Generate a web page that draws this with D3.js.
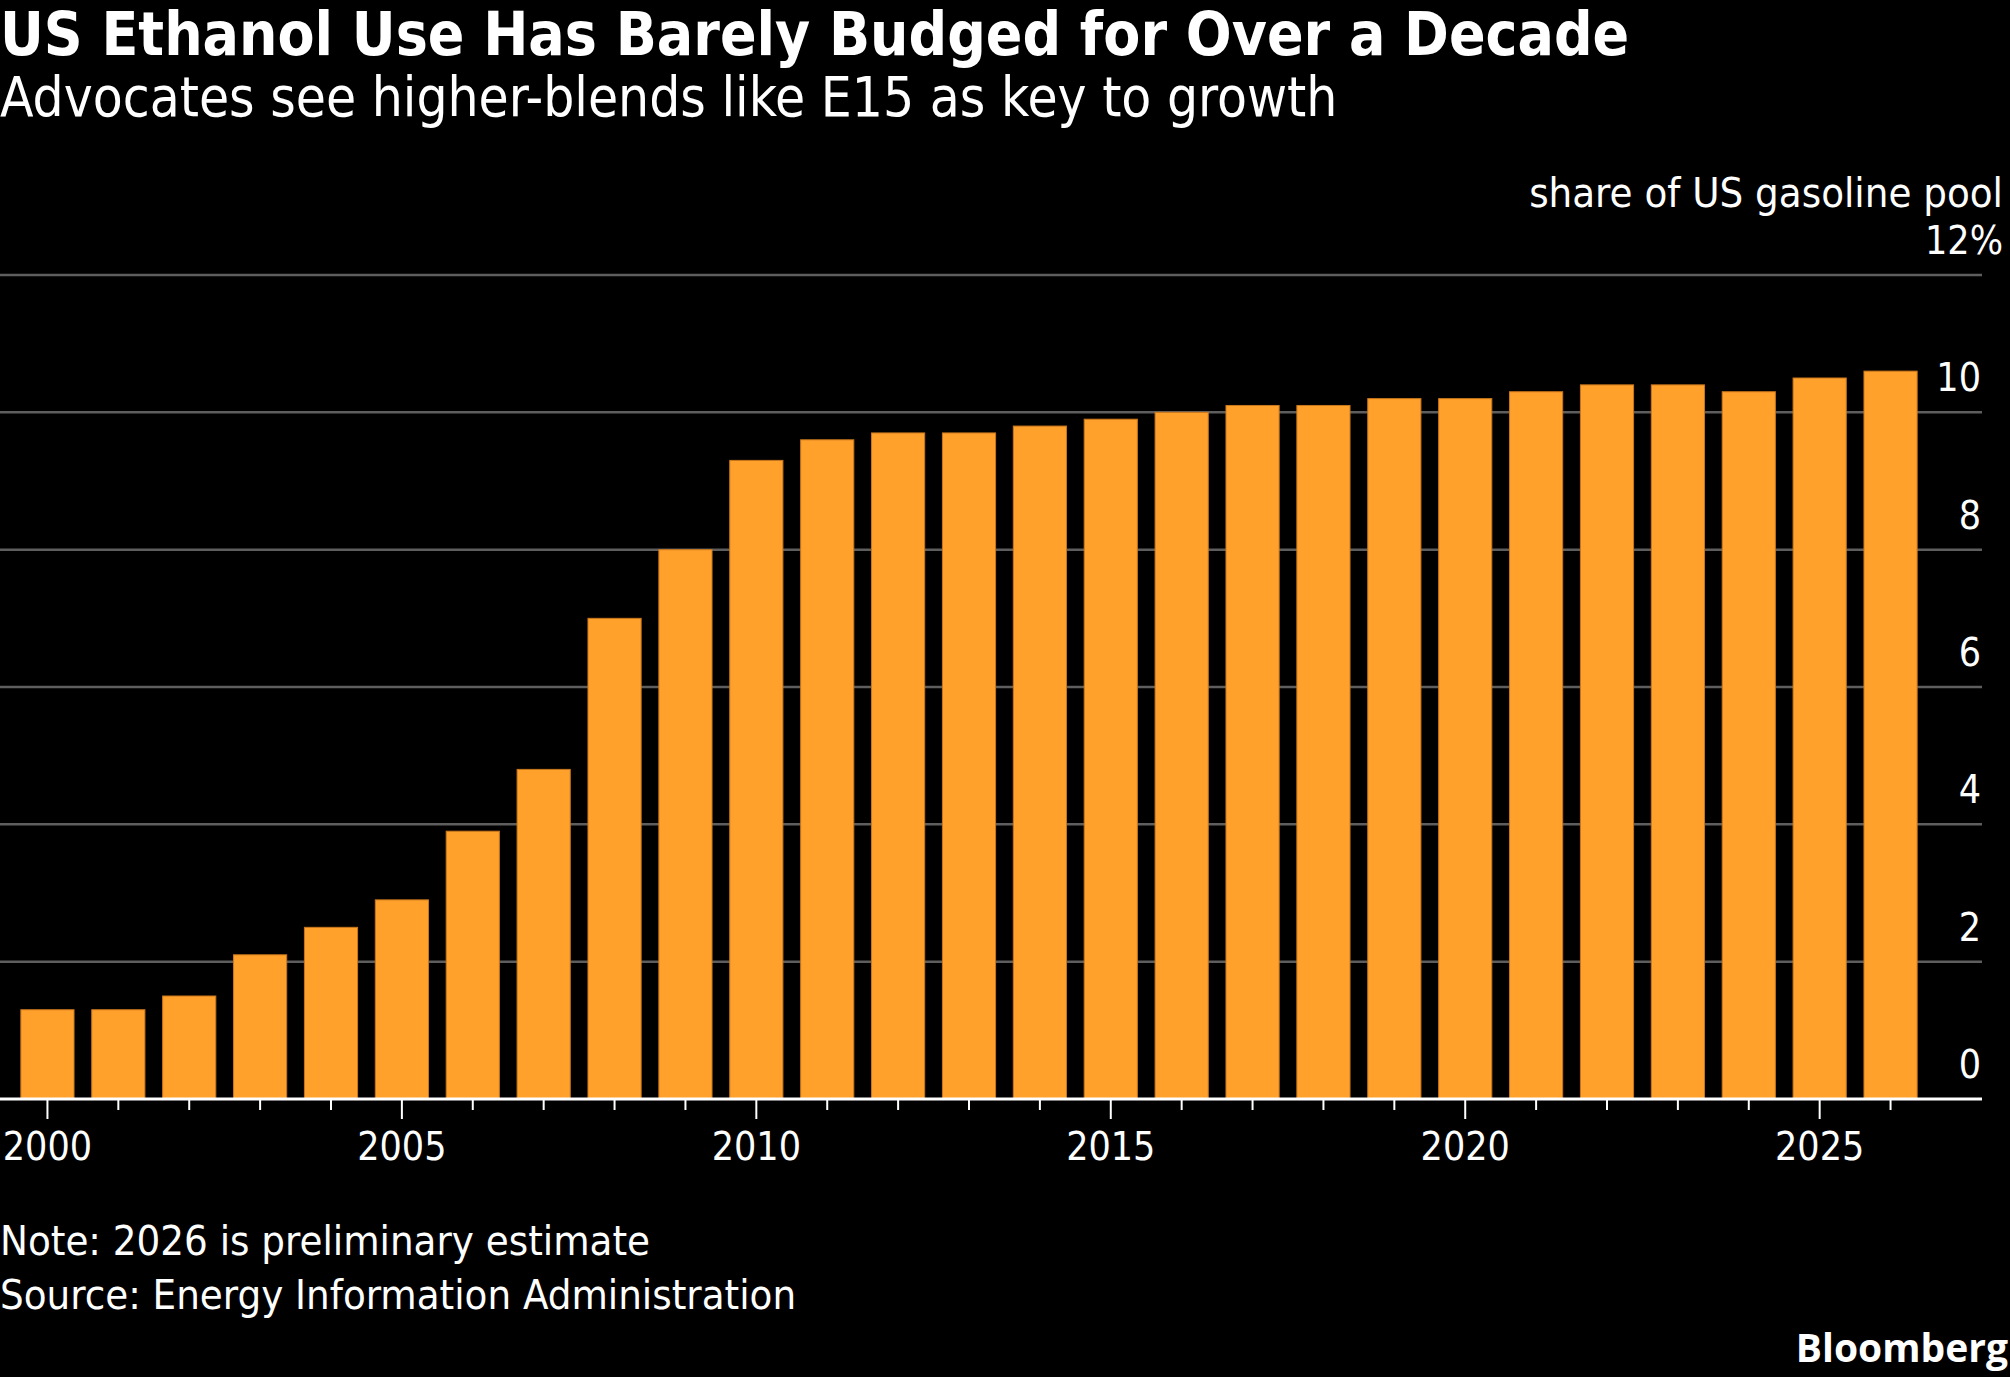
<!DOCTYPE html>
<html>
<head>
<meta charset="utf-8">
<script src="https://cdn.jsdelivr.net/npm/d3@7"></script>
<style>
  body { margin: 0; background: #000; }
  text { font-family: "DejaVu Sans Condensed", "DejaVu Sans", sans-serif; fill: #fff; }
</style>
</head>
<body>
<div id="chart"></div>
<script>
// data
var years = [2000, 2001, 2002, 2003, 2004, 2005, 2006, 2007, 2008, 2009,
  2010, 2011, 2012, 2013, 2014, 2015, 2016, 2017, 2018, 2019,
  2020, 2021, 2022, 2023, 2024, 2025, 2026];
var shares = [1.3, 1.3, 1.5, 2.1, 2.5, 2.9, 3.9, 4.8, 7.0, 8.0,
  9.3, 9.6, 9.7, 9.7, 9.8, 9.9, 10.0, 10.1, 10.1, 10.2,
  10.2, 10.3, 10.4, 10.4, 10.3, 10.5, 10.6];
var yTicks = [0, 2, 4, 6, 8, 10, 12];
var xLabelYears = [2000, 2005, 2010, 2015, 2020, 2025];

var title = "US Ethanol Use Has Barely Budged for Over a Decade";
var subtitle = "Advocates see higher-blends like E15 as key to growth";
var unitLabel = "share of US gasoline pool";
var notes = ["Note: 2026 is preliminary estimate", "Source: Energy Information Administration"];

var svgWidth = 2010;
var svgHeight = 1377;

var svg = d3.select("#chart")
  .append("svg")
  .attr("width", svgWidth)
  .attr("height", svgHeight)
  .style("background", "#000");

var chartRight = 1982;   // where gridlines / axis end
var baseY = 1099;

// scales
var xScale = d3.scaleBand()
  .domain(years)
  .range([12, 1926])
  .paddingInner(0.25)
  .paddingOuter(0.125);

var yScale = d3.scaleLinear()
  .domain([0, 12])
  .range([baseY, 275]);

// title block
svg.append("text")
  .attr("x", 0)
  .attr("y", 55)
  .attr("font-size", 60)
  .attr("font-weight", "bold")
  .text(title);

svg.append("text")
  .attr("x", 0)
  .attr("y", 116)
  .attr("font-size", 54.5)
  .text(subtitle);

svg.append("text")
  .attr("x", 2003)
  .attr("y", 207)
  .attr("text-anchor", "end")
  .attr("font-size", 41.5)
  .text(unitLabel);

// gridlines
svg.append("g")
  .selectAll("line")
  .data(yTicks.filter(d => d > 0))
  .enter()
  .append("line")
  .attr("x1", 0)
  .attr("x2", chartRight)
  .attr("y1", d => yScale(d))
  .attr("y2", d => yScale(d))
  .attr("stroke", "#5e5e5e")
  .attr("stroke-width", 2.5);

// y labels, right side (top one carries the unit)
svg.append("g")
  .selectAll("text")
  .data(yTicks)
  .enter()
  .append("text")
  .attr("x", d => d === 12 ? 2003 : 1981)
  .attr("y", d => yScale(d) - 21)
  .attr("text-anchor", "end")
  .attr("font-size", 39)
  .text(d => d === 12 ? d + "%" : d);

// bars
svg.append("g")
  .selectAll("rect")
  .data(shares)
  .enter()
  .append("rect")
  .attr("x", (d, i) => xScale(years[i]))
  .attr("y", d => yScale(d))
  .attr("width", xScale.bandwidth())
  .attr("height", d => baseY - yScale(d))
  .attr("fill", "#ffa12b")
  .attr("stroke", "#c9771c")
  .attr("stroke-width", 1);

// x axis line and ticks
svg.append("line")
  .attr("x1", 0)
  .attr("x2", chartRight)
  .attr("y1", baseY)
  .attr("y2", baseY)
  .attr("stroke", "#fff")
  .attr("stroke-width", 3);

svg.append("g")
  .selectAll("line")
  .data(years)
  .enter()
  .append("line")
  .attr("x1", d => xScale(d) + xScale.bandwidth() / 2)
  .attr("x2", d => xScale(d) + xScale.bandwidth() / 2)
  .attr("y1", baseY)
  .attr("y2", d => xLabelYears.indexOf(d) >= 0 ? baseY + 20 : baseY + 11)
  .attr("stroke", "#fff")
  .attr("stroke-width", 2);

svg.append("g")
  .selectAll("text")
  .data(xLabelYears)
  .enter()
  .append("text")
  .attr("x", d => xScale(d) + xScale.bandwidth() / 2)
  .attr("y", 1160)
  .attr("text-anchor", "middle")
  .attr("font-size", 39)
  .text(d => d);

// footnotes
svg.append("g")
  .selectAll("text")
  .data(notes)
  .enter()
  .append("text")
  .attr("x", 0)
  .attr("y", (d, i) => 1255 + i * 54)
  .attr("font-size", 41.5)
  .text(d => d);

svg.append("text")
  .attr("x", 2008)
  .attr("y", 1362)
  .attr("text-anchor", "end")
  .attr("font-size", 39)
  .attr("font-weight", "bold")
  .style("font-family", "'Open Sans', 'DejaVu Sans', sans-serif")
  .text("Bloomberg");
</script>
</body>
</html>
